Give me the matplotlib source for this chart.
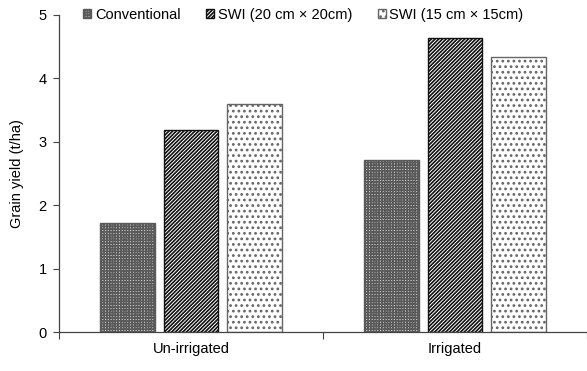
import matplotlib
matplotlib.use("Agg")
import matplotlib.pyplot as plt
import numpy as np

plt.rcParams['font.family'] = ['Liberation Sans', 'DejaVu Sans']
plt.rcParams['hatch.linewidth'] = 1.2

categories = ["Un-irrigated", "Irrigated"]
series_names = ["Conventional", "SWI (20 cm \u00d7 20cm)", "SWI (15 cm \u00d7 15cm)"]
conventional = [1.72, 2.71]
swi_20 = [3.18, 4.63]
swi_15 = [3.59, 4.34]
y_ticks = [0, 1, 2, 3, 4, 5]

fig = plt.figure(figsize=(5.87, 3.71), dpi=100)
ax = fig.add_axes([59/587, 39/371, 528/587, 317/371])

x = np.arange(len(categories))
width = 0.208
step = 0.242
styles = [
    dict(facecolor="#cfcfcf", hatch="++++++", edgecolor="#5a5a5a"),
    dict(facecolor="white", hatch="/////////", edgecolor="#111111"),
    dict(facecolor="white", hatch="...", edgecolor="#666666"),
]
for i, (vals, name, st) in enumerate(zip([conventional, swi_20, swi_15], series_names, styles)):
    ax.bar(x + (i - 1) * step, vals, width, label=name, linewidth=1.0, **st)

ax.set_xlim(-0.5, 1.5)
ax.set_ylim(0, 5)
ax.set_yticks(y_ticks)
ax.set_xticks([-0.5, 0.5, 1.5], minor=False)
ax.set_xticklabels(["", "", ""])
ax.set_xticks(x, minor=True)
ax.set_xticklabels(categories, minor=True)
ax.tick_params(axis="x", which="minor", length=0, labelsize=10.5, pad=7)
ax.tick_params(axis="x", which="major", length=5, color="#444444")
ax.tick_params(axis="y", length=4, labelsize=10.5, color="#444444", pad=5)
ax.set_ylabel("Grain yield (t/ha)", fontsize=10.5, labelpad=10)

for side in ["top", "right"]:
    ax.spines[side].set_visible(False)
for side in ["left", "bottom"]:
    ax.spines[side].set_color("#444444")
    ax.spines[side].set_linewidth(0.9)

leg = ax.legend(loc="center left", bbox_to_anchor=(0.046, 1.0), ncol=3, frameon=False,
                fontsize=10.5, handlelength=0.55, handleheight=0.55, handletextpad=0.25,
                columnspacing=1.75, borderaxespad=0, borderpad=0)

fig.savefig("out.png", dpi=100)
